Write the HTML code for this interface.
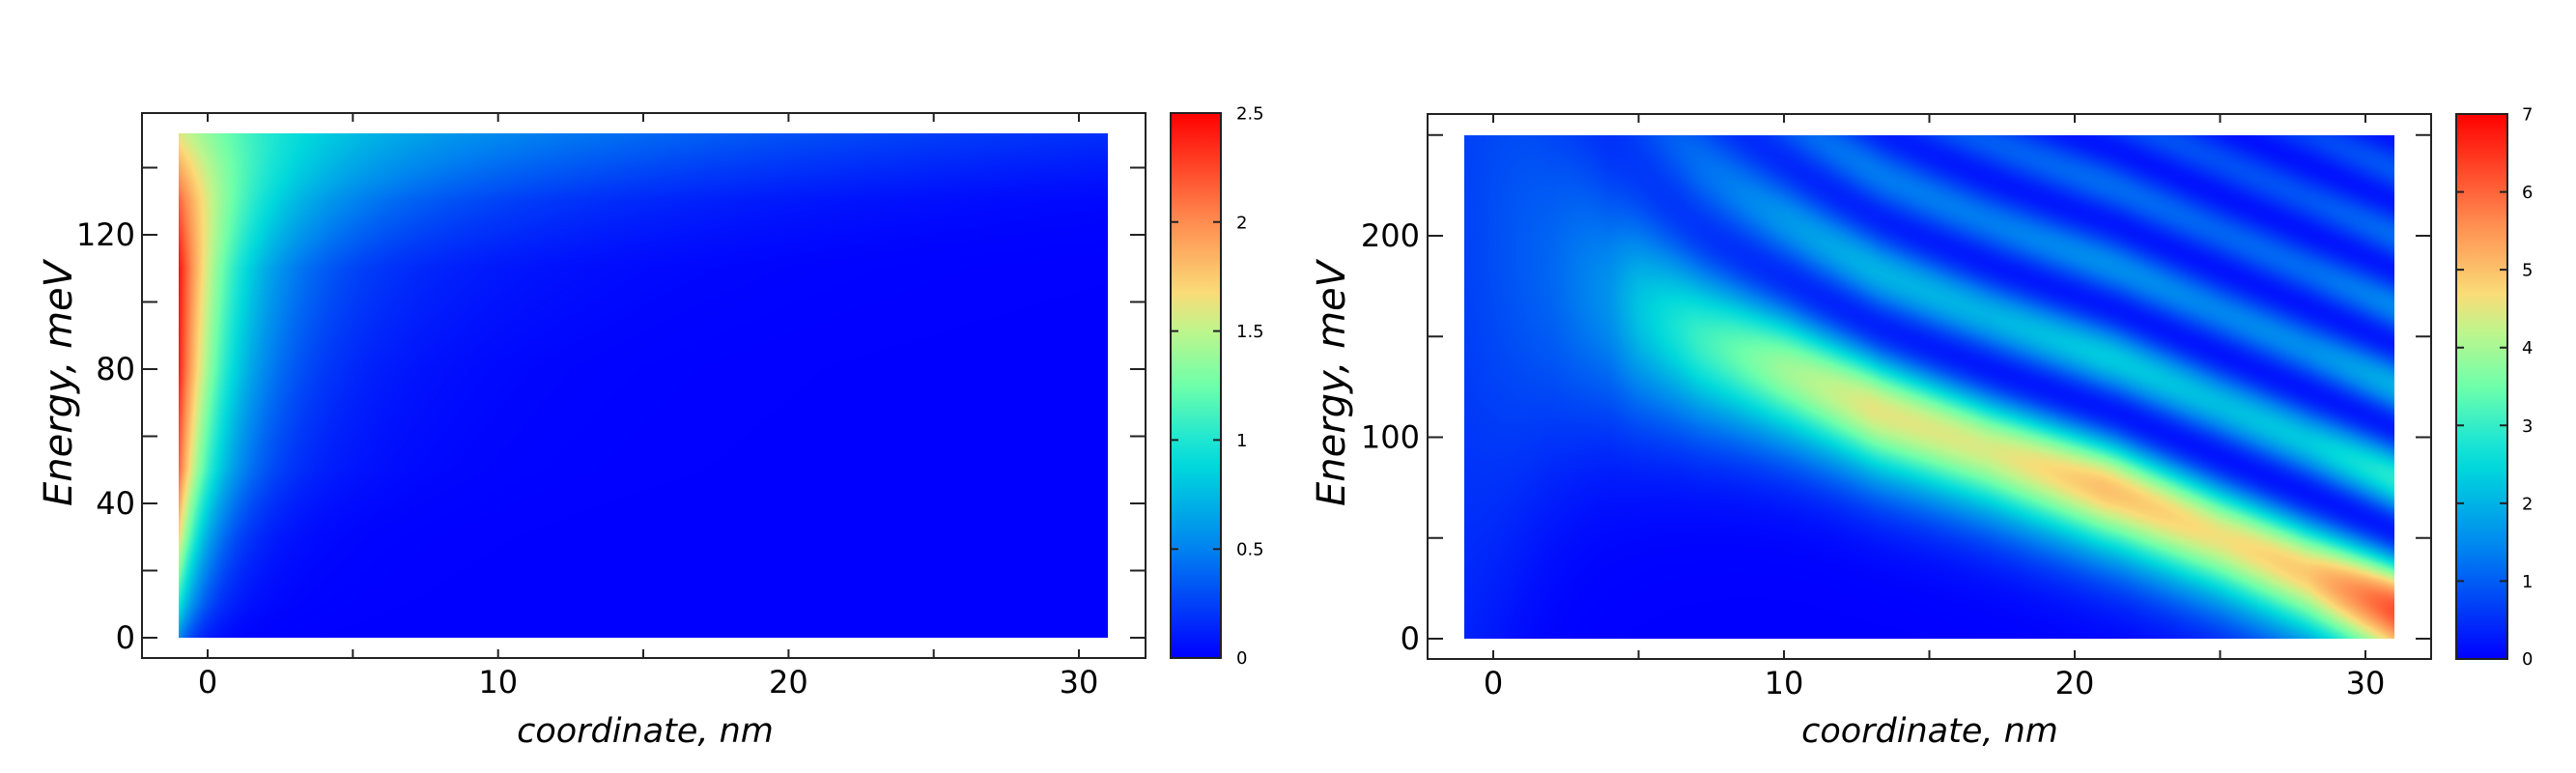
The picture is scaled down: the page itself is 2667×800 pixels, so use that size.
<!DOCTYPE html>
<html><head><meta charset="utf-8">
<style>
html,body{margin:0;padding:0;background:#fff;}
#wrap{position:relative;width:2667px;height:800px;overflow:hidden;background:#fff;}
canvas{position:absolute;}
svg{position:absolute;left:0;top:0;}
.cb1{position:absolute;left:1212px;top:117px;width:52px;height:564px;}
.cb2{position:absolute;left:2543px;top:118px;width:53px;height:564px;}
.cb{background:linear-gradient(to top,rgb(0,0,255) 0%,rgb(0,130,240) 20%,rgb(0,215,220) 35%,rgb(30,230,210) 40%,rgb(110,255,170) 50%,rgb(190,245,140) 60%,rgb(250,220,120) 67%,rgb(255,140,80) 80%,rgb(255,0,0) 100%);}
</style></head><body>
<div id="wrap">
<canvas id="c1" width="962" height="522" style="left:185px;top:138px;width:962px;height:522px;"></canvas>
<canvas id="c2" width="963" height="521" style="left:1516px;top:140px;width:963px;height:521px;"></canvas>
<div class="cb cb1"></div>
<div class="cb cb2"></div>
<svg width="2667" height="800" xmlns="http://www.w3.org/2000/svg" font-family="'DejaVu Sans','Liberation Sans',sans-serif">
<g stroke="#222" stroke-width="2" fill="none">
<rect x="147" y="117" width="1039" height="564"/>
<rect x="1478" y="118" width="1039" height="564"/>
<rect x="1212" y="117" width="52" height="564"/>
<rect x="2543" y="118" width="53" height="564"/>
</g>
<g stroke="#222" stroke-width="2">
<path d="M215 681v-9M365.3 681v-9M515.7 681v-9M666 681v-9M816.4 681v-9M966.7 681v-9M1117 681v-9
M215 117v9M365.3 117v9M515.7 117v9M666 117v9M816.4 117v9M966.7 117v9M1117 117v9"/>
<path d="M147 660h16M147 590.5h16M147 521h16M147 451.5h16M147 382h16M147 312.5h16M147 243h16M147 173.5h16
M1186 660h-16M1186 590.5h-16M1186 521h-16M1186 451.5h-16M1186 382h-16M1186 312.5h-16M1186 243h-16M1186 173.5h-16"/>
<path d="M1546 682v-9M1696.5 682v-9M1847 682v-9M1997.5 682v-9M2148 682v-9M2298.5 682v-9M2449 682v-9
M1546 118v9M1696.5 118v9M1847 118v9M1997.5 118v9M2148 118v9M2298.5 118v9M2449 118v9"/>
<path d="M1478 661h16M1478 556.75h16M1478 452.5h16M1478 348.25h16M1478 244h16M1478 139.75h16
M2517 661h-16M2517 556.75h-16M2517 452.5h-16M2517 348.25h-16M2517 244h-16M2517 139.75h-16"/>
<path d="M1212 568.2h8M1212 455.4h8M1212 342.6h8M1212 229.8h8M1264 568.2h-8M1264 455.4h-8M1264 342.6h-8M1264 229.8h-8"/>
<path d="M2543 601.4h8M2543 520.9h8M2543 440.3h8M2543 359.7h8M2543 279.1h8M2543 198.6h8
M2596 601.4h-8M2596 520.9h-8M2596 440.3h-8M2596 359.7h-8M2596 279.1h-8M2596 198.6h-8"/>
</g>
<g font-size="32" fill="#000">
<g text-anchor="end">
<text x="140" y="671">0</text>
<text x="140" y="532">40</text>
<text x="140" y="393">80</text>
<text x="140" y="254">120</text>
<text x="1470" y="672">0</text>
<text x="1470" y="463.5">100</text>
<text x="1470" y="255">200</text>
</g>
<g text-anchor="middle">
<text x="215" y="717">0</text>
<text x="515.7" y="717">10</text>
<text x="816.4" y="717">20</text>
<text x="1117" y="717">30</text>
<text x="1546" y="718">0</text>
<text x="1847" y="718">10</text>
<text x="2148" y="718">20</text>
<text x="2449" y="718">30</text>
</g>
</g>
<g font-size="18" fill="#000">
<text x="1280" y="687">0</text>
<text x="1280" y="574.7">0.5</text>
<text x="1280" y="461.9">1</text>
<text x="1280" y="349.1">1.5</text>
<text x="1280" y="236.3">2</text>
<text x="1280" y="123.5">2.5</text>
<text x="2611" y="688">0</text>
<text x="2611" y="607.9">1</text>
<text x="2611" y="527.4">2</text>
<text x="2611" y="446.8">3</text>
<text x="2611" y="366.2">4</text>
<text x="2611" y="285.6">5</text>
<text x="2611" y="205.1">6</text>
<text x="2611" y="124.5">7</text>
</g>
<g font-style="italic" fill="#000" text-anchor="middle">
<text font-size="35" x="668" y="768">coordinate, nm</text>
<text font-size="35" x="1998" y="768">coordinate, nm</text>
<text font-size="40" transform="translate(74,397) rotate(-90)">Energy, meV</text>
<text font-size="40" transform="translate(1392,397) rotate(-90)">Energy, meV</text>
</g>
</svg>
</div>
<script>
(function(){
var stops=[[0,0,0,255],[0.2,0,130,240],[0.35,0,215,220],[0.4,30,230,210],[0.5,110,255,170],[0.6,190,245,140],[0.67,250,220,120],[0.8,255,140,80],[1,255,0,0]];
function cmap(t){
 if(t<0)t=0; if(t>1)t=1;
 for(var i=1;i<stops.length;i++){
  if(t<=stops[i][0]){var a=stops[i-1],b=stops[i],f=(t-a[0])/(b[0]-a[0]);
   return [a[1]+(b[1]-a[1])*f,a[2]+(b[2]-a[2])*f,a[3]+(b[3]-a[3])*f];}
 }
 return [255,0,0];
}
function interp(pts,x){
 if(x<=pts[0][0])return pts[0][1];
 for(var i=1;i<pts.length;i++){ if(x<=pts[i][0]){var a=pts[i-1],b=pts[i];return a[1]+(b[1]-a[1])*(x-a[0])/(b[0]-a[0]);}}
 return pts[pts.length-1][1];
}
(function(){
 var c=document.getElementById('c1'),ctx=c.getContext('2d'),W=c.width,H=c.height;
 var img=ctx.createImageData(W,H),d=img.data;
 var Es=[0,10,30,50,80,110,130,150];
 var P=[0.5,0.9,1.5,1.8,1.9,1.9,1.4,0.7],L1=[0.6,0.8,1.0,1.3,1.6,1.8,2.3,3.0],
     R=[0.05,0.1,0.2,0.35,0.5,0.55,0.75,0.9],L2=[1.5,2,2.5,3.5,4,6,10,20];
 function mk(arr){var o=[];for(var i=0;i<Es.length;i++)o.push([Es[i],arr[i]]);return o;}
 var pP=mk(P),pL1=mk(L1),pR=mk(R),pL2=mk(L2);
 for(var py=0;py<H;py++){
  var E=150*(1-(py+0.5)/H);
  var p=interp(pP,E),l1=interp(pL1,E),r=interp(pR,E),l2=interp(pL2,E);
  for(var px=0;px<W;px++){
   var x=-1+32*(px+0.5)/W, dd=x+1;
   var f=p*Math.exp(-dd/l1)+r*Math.exp(-dd/l2);
   var col=cmap(f/2.5),k=(py*W+px)*4;
   d[k]=col[0];d[k+1]=col[1];d[k+2]=col[2];d[k+3]=255;
  }
 }
 ctx.putImageData(img,0,0);
})();
(function(){
 var c=document.getElementById('c2'),ctx=c.getContext('2d'),W=c.width,H=c.height;
 var img=ctx.createImageData(W,H),d=img.data;
 var c1=0.355028053887817,c2=0.258819403792807;
 function Ai(t){
  var t3=t*t*t,f=1,tf=1,g=t,tg=t;
  for(var k=0;k<80;k++){
   tf=tf*t3/((3*k+2)*(3*k+3)); tg=tg*t3/((3*k+3)*(3*k+4));
   f+=tf; g+=tg;
   if(Math.abs(tf)<1e-18&&Math.abs(tg)<1e-18)break;
  }
  return c1*f-c2*g;
 }
 var Z0=-10,DZ=0.005,N=4801,T=new Float64Array(N);
 for(var i=0;i<N;i++){var z=Z0+i*DZ,v=Ai(-z);var dm=z>1.02?Math.exp(-0.1*(z-1.02)):1;T[i]=v*v*dm;}
 function Tz(z){var u=(z-Z0)/DZ;if(u<0)return 0;if(u>=N-1)return T[N-1];var i=Math.floor(u),f=u-i;return T[i]*(1-f)+T[i+1]*f;}
 var us=[],ws=[],sw=0;
 for(var k=-10;k<=10;k++){var u=k*0.25;us.push(u);var w=Math.exp(-u*u/2);ws.push(w);sw+=w;}
 for(var k=0;k<ws.length;k++)ws[k]/=sw;
 function S(z,s){var acc=0;for(var k=0;k<us.length;k++)acc+=ws[k]*Tz(z+s*us[k]);return acc;}
 var ridge=[[-1,215],[2,192],[5,168],[7.2,151],[10.2,134],[13.3,114],[17.4,93],[21.5,73],[25.6,48],[30.7,17],[31,15]];
 var inten=[[-1,0.7],[2,1.1],[4,1.6],[5,2.2],[7,3.0],[10,3.9],[13,4.5],[17,4.4],[21,5.0],[25,4.6],[28,4.9],[31,6.2]];
 for(var px=0;px<W;px++){
  var x=-1+32*(px+0.5)/W;
  var a=0.0343/(1+1.7*Math.exp(-(x-1)/3.5));
  var Em=interp(ridge,x),Ez=Em-1.02/a;
  var s=0.18+1.1*Math.exp(-(x+1)/5);
  var Im=interp(inten,x);
  var nrm=S(1.02,s); var A=Im/nrm;
  for(var py=0;py<H;py++){
   var E=250*(1-(py+0.5)/H);
   var z=a*(E-Ez);
   var val=A*S(z,s);
   var col=cmap(val/7),k=(py*W+px)*4;
   d[k]=col[0];d[k+1]=col[1];d[k+2]=col[2];d[k+3]=255;
  }
 }
 ctx.putImageData(img,0,0);
})();
})();
</script>
</body></html>
